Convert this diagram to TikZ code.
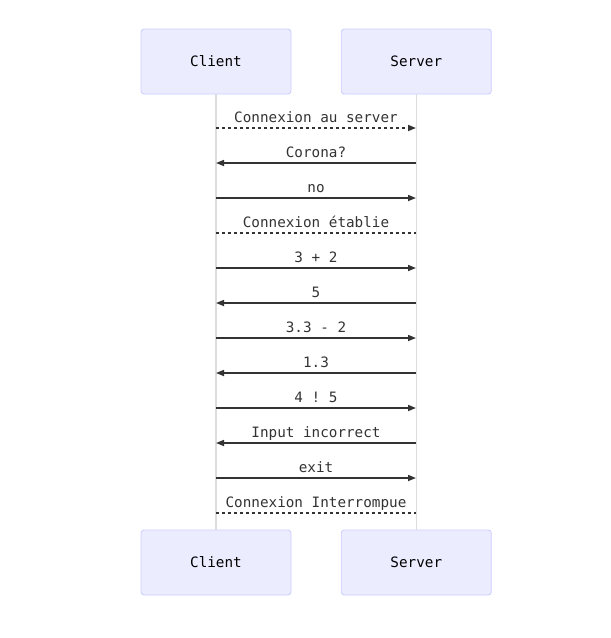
\documentclass[tikz,border=0pt]{standalone}
\usepackage{fontspec}
\setmonofont{DejaVu Sans Mono}
\usepackage{tikz}
\usetikzlibrary{positioning, arrows.meta}
\definecolor{mActorFill}{HTML}{ECECFF}
\definecolor{mActorLine}{HTML}{CCCCFF}
\definecolor{mLife}{HTML}{DDDDDD}
\definecolor{mMsg}{HTML}{333333}
\def\msgstep{35}

\begin{document}
\begin{tikzpicture}[x=1pt, y=-1pt, node distance=49.5pt, font=\ttfamily\fontsize{14.3}{16}\selectfont]
  \tikzstyle{actor}=[draw=mActorLine, fill=mActorFill, rounded corners=3pt, minimum width=150pt, minimum height=65pt, line width=0.8pt]
  \tikzstyle{lifeline}=[draw=mLife, line width=1.3pt]
  \tikzstyle{msg}=[draw=mMsg, line width=1.6pt, -{Triangle[length=8pt,width=6pt]}]
  \tikzstyle{reply}=[msg, dash pattern=on 3pt off 3pt]
  \tikzstyle{note}=[draw=mMsg, line width=1.6pt, dash pattern=on 3pt off 3pt]
  \tikzstyle{lbl}=[text=mMsg, anchor=base, yshift=6pt]

  \useasboundingbox (0,0) rectangle (611,638);

  % Draw the actors, top and bottom
  \node[actor] (C-top) at (216,61.5) {Client};
  \node[actor, right=of C-top] (S-top) {Server};
  \node[actor] (C-bot) at (216,562.5) {Client};
  \node[actor, right=of C-bot] (S-bot) {Server};

  % Lifelines
  \draw[lifeline] (C-top) -- (C-bot);
  \draw[lifeline] (S-top) -- (S-bot);

  % Points on the lifelines, one per message
  \foreach \i in {1,...,12} {
    \coordinate (C-\i) at (216, 93+\msgstep*\i);
    \coordinate (S-\i) at (416, 93+\msgstep*\i);
  }

  % Draw the messages
  \foreach \i / \src / \dst / \kind / \txt in {
      1/C/S/reply/Connexion au server,
      2/S/C/msg/Corona?,
      3/C/S/msg/no,
      4/C/S/note/Connexion établie,
      5/C/S/msg/3 + 2,
      6/S/C/msg/5,
      7/C/S/msg/3.3 - 2,
      8/S/C/msg/1.3,
      9/C/S/msg/4 ! 5,
      10/S/C/msg/Input incorrect,
      11/C/S/msg/exit,
      12/C/S/note/Connexion Interrompue}
    \draw[\kind] (\src-\i) -- (\dst-\i) node[lbl, midway] (L-\i) {\txt};
\end{tikzpicture}
\end{document}
